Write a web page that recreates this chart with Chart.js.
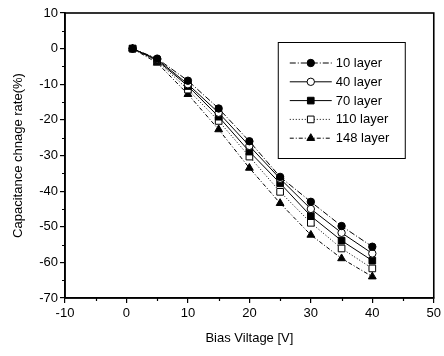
<!DOCTYPE html>
<html>
<head>
<meta charset="utf-8">
<script src="https://cdn.jsdelivr.net/npm/chart.js@4/dist/chart.umd.min.js"></script>
<style>
  html, body { margin: 0; padding: 0; background: #fff; }
  #wrap { width: 444px; height: 356px; }
</style>
</head>
<body>
<div id="wrap"><canvas id="c" width="444" height="356"></canvas></div>
<script>
// Bias voltage (V)
const biasVoltage = [1, 5, 10, 15, 20, 25, 30, 35, 40];

// Capacitance change rate (%) for each layer count
const layer10  = [0, -2.8, -9.0, -16.8, -26.0, -36.0, -43.0, -49.8, -55.6];
const layer40  = [0, -3.0, -10.0, -18.0, -27.3, -36.5, -45.0, -51.7, -57.5];
const layer70  = [0, -3.3, -10.5, -19.1, -28.9, -37.8, -47.0, -53.9, -59.5];
const layer110 = [0, -3.5, -11.5, -20.3, -30.3, -40.2, -48.9, -56.1, -61.7];
const layer148 = [0, -4.0, -12.8, -22.7, -33.5, -43.4, -52.3, -58.9, -64.0];

const seriesNames = ['10 layer', '40 layer', '70 layer', '110 layer', '148 layer'];

// Minor tick positions on each axis
const xMinorTicks = [-5, 5, 15, 25, 35, 45];
const yMinorTicks = [5, -5, -15, -25, -35, -45, -55, -65];

const FONT = 'Liberation Sans, Arial, sans-serif';

function pts(values) {
  return biasVoltage.map((v, i) => ({ x: v, y: values[i] }));
}

const styles = [
  { pointStyle: 'circle',   fill: '#000', dash: [6, 2, 1, 2], r: 3.7 },
  { pointStyle: 'circle',   fill: '#fff', dash: [],           r: 3.7 },
  { pointStyle: 'rect',     fill: '#000', dash: [],           r: 4.7 },
  { pointStyle: 'rect',     fill: '#fff', dash: [1, 2],       r: 4.7 },
  { pointStyle: 'triangle', fill: '#000', dash: [4, 2, 1, 2], r: 4.5 }
];

const seriesValues = [layer10, layer40, layer70, layer110, layer148];

const datasets = seriesValues.map((vals, i) => ({
  label: seriesNames[i],
  data: pts(vals),
  borderColor: '#000',
  borderWidth: 1,
  borderDash: styles[i].dash,
  pointStyle: styles[i].pointStyle,
  pointRadius: styles[i].r,
  pointBackgroundColor: styles[i].fill,
  pointBorderColor: '#000',
  pointBorderWidth: 1,
  showLine: true,
  tension: 0
}));

// Frame, minor ticks and the in-plot legend box
const framePlugin = {
  id: 'frameAndLegend',
  afterDraw(chart) {
    const { ctx, chartArea: ca, scales } = chart;
    ctx.save();
    ctx.strokeStyle = '#000';
    ctx.lineWidth = 1.6;
    ctx.strokeRect(ca.left, ca.top, ca.right - ca.left, ca.bottom - ca.top);

    // minor ticks (shorter than the major ones)
    ctx.lineWidth = 1.2;
    ctx.beginPath();
    xMinorTicks.forEach(v => {
      const px = Math.round(scales.x.getPixelForValue(v)) + 0.5;
      ctx.moveTo(px, ca.bottom);
      ctx.lineTo(px, ca.bottom + 3);
    });
    yMinorTicks.forEach(v => {
      const py = Math.round(scales.y.getPixelForValue(v)) + 0.5;
      ctx.moveTo(ca.left, py);
      ctx.lineTo(ca.left - 3, py);
    });
    ctx.stroke();

    // legend box
    const bx = ca.right - 156, by = ca.top + 29, bw = 127, bh = 116;
    ctx.lineWidth = 1;
    ctx.fillStyle = '#fff';
    ctx.fillRect(bx, by, bw, bh);
    ctx.strokeRect(bx + 0.5, by + 0.5, bw, bh);

    chart.data.datasets.forEach((ds, i) => {
      const y = by + 21 + i * 18.8;
      const x0 = bx + 12, x1 = bx + 54, xm = bx + 33;
      ctx.strokeStyle = '#000';
      ctx.lineWidth = 1;
      ctx.setLineDash(ds.borderDash || []);
      ctx.beginPath();
      ctx.moveTo(x0, y);
      ctx.lineTo(x1, y);
      ctx.stroke();
      ctx.setLineDash([]);
      // marker
      const r = ds.pointRadius;
      ctx.fillStyle = ds.pointBackgroundColor;
      ctx.beginPath();
      if (ds.pointStyle === 'circle') {
        ctx.arc(xm, y, r, 0, Math.PI * 2);
      } else if (ds.pointStyle === 'rect') {
        const s = r * Math.SQRT1_2;
        ctx.rect(xm - s, y - s, 2 * s, 2 * s);
      } else {
        const h = r * 1.5;
        const side = r * 3 / Math.sqrt(3);
        ctx.moveTo(xm, y - h * 2 / 3);
        ctx.lineTo(xm + side / 2, y + h / 3);
        ctx.lineTo(xm - side / 2, y + h / 3);
        ctx.closePath();
      }
      ctx.fill();
      ctx.stroke();
      // label
      ctx.fillStyle = '#000';
      ctx.font = '13px ' + FONT;
      ctx.textAlign = 'left';
      ctx.textBaseline = 'middle';
      ctx.fillText(ds.label, bx + 58, y + 0.5);
    });
    ctx.restore();
  }
};

new Chart(document.getElementById('c'), {
  type: 'scatter',
  data: { datasets },
  plugins: [framePlugin],
  options: {
    responsive: false,
    animation: false,
    layout: { autoPadding: false, padding: { top: 13, right: 7, left: 0, bottom: 0 } },
    plugins: { legend: { display: false }, tooltip: { enabled: false } },
    scales: {
      x: {
        type: 'linear',
        min: -10, max: 50,
        border: { color: '#000', width: 1.6 },
        grid: { drawOnChartArea: false, drawTicks: true, tickLength: 5, color: '#000', tickColor: '#000', lineWidth: 1.2 },
        ticks: { stepSize: 10, autoSkip: false, maxRotation: 0, padding: 3, color: '#000', font: { family: FONT, size: 13 } },
        title: { display: true, text: 'Bias Viltage [V]', color: '#000', font: { family: FONT, size: 13 }, padding: { top: 0, bottom: 10 } },
        afterFit(scale) { scale.height = 58; }
      },
      y: {
        type: 'linear',
        min: -70, max: 10,
        border: { color: '#000', width: 1.6 },
        grid: { drawOnChartArea: false, drawTicks: true, tickLength: 5, color: '#000', tickColor: '#000', lineWidth: 1.2 },
        ticks: { stepSize: 10, autoSkip: false, padding: 2, color: '#000', font: { family: FONT, size: 13 } },
        title: { display: true, text: 'Capacitance chnage rate(%)', color: '#000', font: { family: FONT, size: 13 }, padding: { top: 11, bottom: 0 } },
        afterFit(scale) { scale.width = 65; }
      }
    }
  }
});
</script>
</body>
</html>
